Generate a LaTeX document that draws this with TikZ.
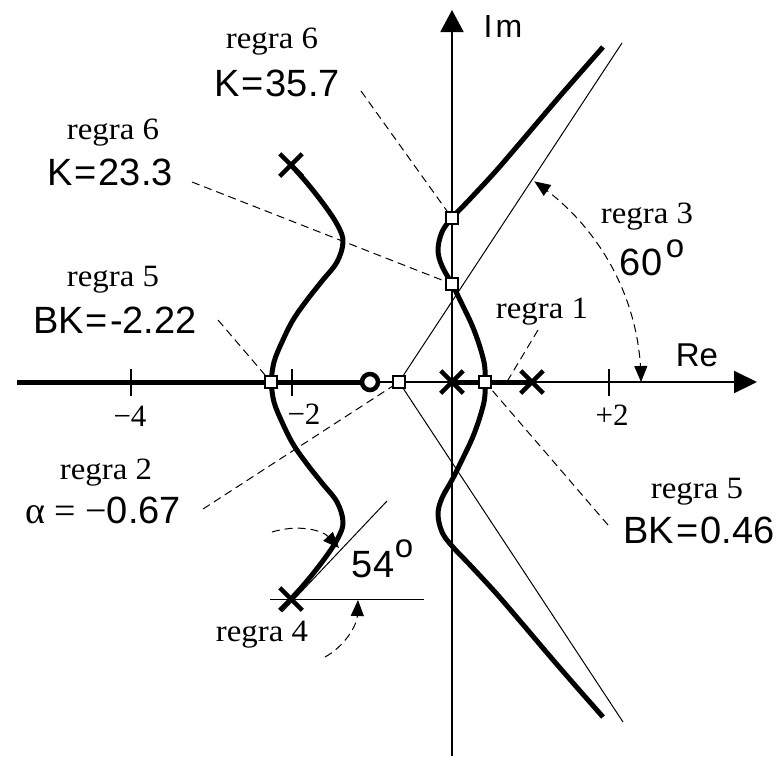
\documentclass[tikz,border=0pt]{standalone}
\usepackage{fontspec}
\setmainfont{Liberation Serif}
\setsansfont{Liberation Sans}
\usetikzlibrary{arrows.meta,shapes.misc}
\newcommand{\rgs}[1]{\scalebox{1.06}[1]{#1}}
\begin{document}
\begin{tikzpicture}[x=1pt,y=-1pt,
  axis/.style={line width=2pt},
  locus/.style={line width=5pt, line join=round},
  thinln/.style={line width=1pt},
  leader/.style={line width=1pt, dash pattern=on 8pt off 5pt},
  sq/.style={draw, fill=white, line width=1.8pt, rectangle, minimum size=12pt, inner sep=0pt},
  polemark/.style={cross out, draw, line width=4.5pt, minimum size=18pt, inner sep=0pt},
  zeromark/.style={circle, draw, fill=white, line width=4.5pt, minimum size=16pt, inner sep=0pt},
  rg/.style={font=\fontsize{31}{33}\selectfont, inner sep=0pt},
  val/.style={font=\sffamily\fontsize{38}{40}\selectfont, inner sep=0pt},
  tip/.style={-{Triangle[length=16pt,width=13pt]}},
  tips/.style={{Triangle[length=16pt,width=13pt]}-{Triangle[length=16pt,width=13pt]}},
]
\useasboundingbox (0,0) rectangle (783,756);

% coordinates
\coordinate (reL) at (17,382);
\coordinate (reR) at (757,382);
\coordinate (imB) at (452,756);
\coordinate (imT) at (452,10);
\coordinate (zc) at (370,382);
\coordinate (p0c) at (452,382);
\coordinate (p1c) at (532,382);
\coordinate (cc) at (399,382);
\coordinate (a1) at (622,43);
\coordinate (a2) at (623,722);

% axes
\draw[axis, -{Triangle[length=23pt,width=22pt]}] (reL) -- (reR);
\draw[axis, -{Triangle[length=22pt,width=23pt]}] (imB) -- (imT);
\draw[axis] (131,369) -- (131,396);
\draw[axis] (292,369) -- (292,396);
\draw[axis] (609,369) -- (609,396);

% asymptotes
\draw[thinln] (cc) -- (a1);
\draw[thinln] (cc) -- (a2);

% real-axis locus
\draw[locus] (reL) -- (zc);
\draw[locus] (p0c) -- (p1c);

% root locus branches
\draw[locus] plot[smooth, tension=0.6] coordinates {(485,382) (484,362) (474,330) (460,300) (452,284) (442,266) (438,250) (442,232) (452,218) (470,199) (495,172) (520,143) (560,96) (603,47)};
\draw[locus] plot[smooth, tension=0.6] coordinates {(485,382) (484,402) (474,434) (460,464) (452,480) (442,498) (438,514) (442,532) (452,546) (470,565) (495,592) (520,621) (560,668) (603,717)};
\draw[locus] plot[smooth, tension=0.6] coordinates {(291,165) (307,183) (325,206) (338,226) (343,242) (337,262) (322,281) (307,300) (293,320) (282,342) (274,362) (271,382)};
\draw[locus] plot[smooth, tension=0.6] coordinates {(291,599) (307,581) (325,558) (338,538) (343,522) (337,502) (322,483) (307,464) (293,444) (282,422) (274,402) (271,382)};

% 54 degree construction
\coordinate (tg1) at (282,612);
\coordinate (tg2) at (387,501);
\coordinate (hz1) at (270,599);
\coordinate (hz2) at (424,599);
\draw[thinln] (tg1) -- (tg2);
\draw[thinln] (hz1) -- (hz2);
\draw[leader, tip] (272,532) .. controls (298,524) and (322,530) .. (339,548);
\draw[leader, tip] (325,657) .. controls (345,646) and (357,625) .. (358,600);

% 60 degree arc
\draw[leader, tips] plot[smooth, domain=0:56, samples=30] ({399+242*cos(\x)},{382-242*sin(\x)});

% poles, zero, points
\node[polemark] (p0) at (p0c) {};
\node[polemark] (p1) at (p1c) {};
\node[polemark] (p2) at (291,165) {};
\node[polemark] (p3) at (291,599) {};
\node[zeromark] (z1) at (zc) {};
\node[sq] (b1) at (271,382) {};
\node[sq] (c0) at (cc) {};
\node[sq] (b2) at (485,382) {};
\node[sq] (w1) at (452,218) {};
\node[sq] (w2) at (452,284) {};

% axis labels
\node[val, font=\sffamily\fontsize{32}{34}\selectfont] (im) at (503,26) {I\kern3pt m};
\node[val, font=\sffamily\fontsize{33}{35}\selectfont] (re) at (697,355) {Re};
\node[rg] (tm4) at (130,416) {−4};
\node[rg] (tm2) at (304,414) {−2};
\node[rg] (tp2) at (612,415) {+2};

% annotations
\node[rg] (r6a) at (272,42) {\rgs{regra 6}};
\node[val] (k1) at (277,83) {K\kern2pt=\kern2pt35.7};
\node[rg] (r6b) at (113,133) {\rgs{regra 6}};
\node[val] (k2) at (110,172) {K\kern2pt=\kern2pt23.3};
\node[rg] (r5a) at (113,280) {\rgs{regra 5}};
\node[val] (bk1) at (115,320) {BK\kern2pt=\kern2pt-2.22};
\node[rg] (r2) at (106,473) {\rgs{regra 2}};
\node[val] (al) at (103,510) {{\rmfamily α = −}0.67};
\node[rg] (r4) at (262,635) {\rgs{regra 4}};
\node[val] (d54) at (373,565) {54};
\node[val, font=\sffamily\fontsize{33}{35}\selectfont] (o54) at (404,549) {o};
\node[rg] (r3) at (647,217) {\rgs{regra 3}};
\node[val] (d60) at (641,262) {60};
\node[val, font=\sffamily\fontsize{33}{35}\selectfont] (o60) at (675,249) {o};
\node[rg] (r1) at (542,312) {\rgs{regra 1}};
\node[rg] (r5b) at (697,492) {\rgs{regra 5}};
\node[val] (bk2) at (699,530) {BK\kern2pt=\kern2pt0.46};

% leaders
\coordinate (l1) at (361,91);
\coordinate (l2) at (192,182);
\coordinate (l3) at (218,320);
\coordinate (l4) at (203,509);
\coordinate (l5) at (608,525);
\coordinate (l6a) at (538,330);
\coordinate (l6b) at (508,380);
\draw[leader] (l1) -- (w1);
\draw[leader] (l2) -- (w2);
\draw[leader] (l3) -- (b1);
\draw[leader] (l4) -- (c0);
\draw[leader] (l5) -- (b2);
\draw[leader] (l6a) -- (l6b);
\end{tikzpicture}
\end{document}
